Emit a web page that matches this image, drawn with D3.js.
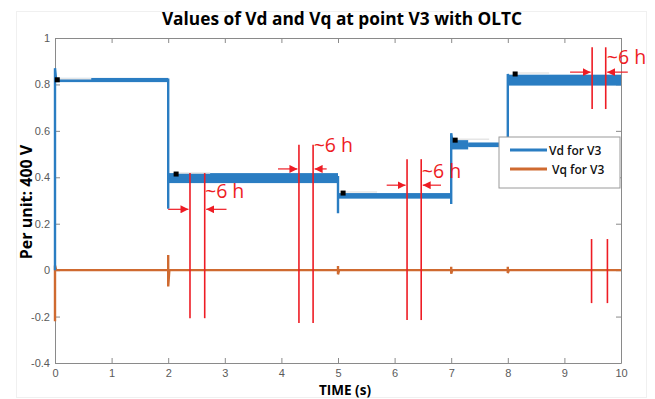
<!DOCTYPE html>
<html>
<head>
<meta charset="utf-8">
<script src="https://cdn.jsdelivr.net/npm/d3@7"></script>
<style>
  body { margin: 0; background: #fff; }
  svg { display: block; }
  .axis path, .axis line { stroke: #8a8a8a; }
  .axis text { fill: #5a5a5a; font-family: "Liberation Sans", Arial, sans-serif; font-size: 11px; }
</style>
</head>
<body>
<div id="chart"></div>
<script>
// x ticks and y ticks
var xTicks = [0, 1, 2, 3, 4, 5, 6, 7, 8, 9, 10];
var yTicks = [-0.4, -0.2, 0, 0.2, 0.4, 0.6, 0.8, 1];
var yTickLabels = ["-0.4", "-0.2", "0", "0.2", "0.4", "0.6", "0.8", "1"];

// Vd step trace (time, value)
var vdTime  = [0, 0, 0.02, 2, 2, 2, 5, 5, 5, 7, 7, 7, 7.03, 8, 8, 8.03, 10];
var vdValue = [0, 0.87, 0.82, 0.82, 0.265, 0.40, 0.40, 0.245, 0.32, 0.32, 0.285, 0.59, 0.54, 0.54, 0.845, 0.82, 0.82];
// Vd ripple band per segment: start, end, low, high
var vdBandStart = [0.02, 2, 5, 7, 7.3, 8];
var vdBandEnd   = [2, 5, 7, 7.3, 8, 10];
var vdBandLow   = [0.81, 0.375, 0.308, 0.52, 0.53, 0.795];
var vdBandHigh  = [0.828, 0.418, 0.332, 0.56, 0.55, 0.842];

// Vq trace (time, value)
var vqTime  = [0, 0, 0, 0.02, 2, 2, 2, 2.02, 5, 5, 5, 5.02, 7, 7, 7, 7.02, 8, 8, 8, 8.02, 10];
var vqValue = [0, -0.22, 0.02, 0, 0, 0.065, -0.07, 0, 0, 0.018, -0.018, 0, 0, 0.015, -0.015, 0, 0, 0.015, -0.012, 0, 0];

// data tip markers
var tipTime  = [0.04, 2.14, 5.09, 7.07, 8.13];
var tipValue = [0.82, 0.414, 0.332, 0.56, 0.845];

// "~6 h" annotation pairs
var annLeft   = [2.385, 4.31, 6.22, 9.49];
var annRight  = [2.645, 4.56, 6.47, 9.73];
var annTop    = [0.418, 0.54, 0.478, 0.96];
var annBottom = [-0.207, -0.228, -0.215, 0.694];
var annArrowY = [0.262, 0.436, 0.366, 0.853];
var annArrowFrom = [2.0, 3.94, 5.86, 9.1];
var annArrowTo   = [3.03, 4.8, 6.82, 10.12];
var annLabelX = [2.65, 4.57, 6.48, 9.75];
var annLabelY = [0.31, 0.51, 0.397, 0.89];
// lower pair without label
var lowLeft = 9.48, lowRight = 9.76, lowTop = 0.134, lowBottom = -0.142;

var width = 655, height = 399;
var margin = {top: 38, right: 34, bottom: 36, left: 55};

var xScale = d3.scaleLinear().domain([0, 10]).range([margin.left, width - margin.right]);
var yScale = d3.scaleLinear().domain([-0.4, 1]).range([height - margin.bottom, margin.top]);

var svg = d3.select("#chart").append("svg")
    .attr("width", width)
    .attr("height", height);

var blue = "#2a7dc2", orange = "#cf6a30", red = "#ee1c24";

// faint figure border
svg.append("rect")
    .attr("x", 16.5).attr("y", 11.5).attr("width", 630).attr("height", 386)
    .attr("fill", "none").attr("stroke", "#f0f0f0");

// axes (MATLAB style, ticks inside)
svg.append("g").attr("class", "axis")
    .attr("transform", "translate(0," + yScale(-0.4) + ")")
    .call(d3.axisBottom(xScale).tickValues(xTicks).tickFormat(d3.format("d"))
        .tickSizeInner(-5).tickSizeOuter(0).tickPadding(6));
svg.append("g").attr("class", "axis")
    .attr("transform", "translate(0," + yScale(1) + ")")
    .call(d3.axisTop(xScale).tickValues(xTicks).tickFormat("")
        .tickSizeInner(-5).tickSizeOuter(0));
svg.append("g").attr("class", "axis")
    .attr("transform", "translate(" + xScale(0) + ",0)")
    .call(d3.axisLeft(yScale).tickValues(yTicks)
        .tickFormat(function(d, i){ return yTickLabels[i]; })
        .tickSizeInner(-5).tickSizeOuter(0).tickPadding(5));
svg.append("g").attr("class", "axis")
    .attr("transform", "translate(" + xScale(10) + ",0)")
    .call(d3.axisRight(yScale).tickValues(yTicks).tickFormat("")
        .tickSizeInner(-5).tickSizeOuter(0));

var line = d3.line()
    .x(function(d){ return xScale(d[0]); })
    .y(function(d){ return yScale(d[1]); });

// Vq
svg.append("path")
    .datum(d3.zip(vqTime, vqValue))
    .attr("fill", "none")
    .attr("stroke", orange)
    .attr("stroke-width", 2.4)
    .attr("d", line);

// Vd band
svg.selectAll(".band")
    .data(d3.range(vdBandStart.length))
    .enter().append("rect")
    .attr("x", function(i){ return xScale(vdBandStart[i]); })
    .attr("width", function(i){ return xScale(vdBandEnd[i]) - xScale(vdBandStart[i]); })
    .attr("y", function(i){ return yScale(vdBandHigh[i]); })
    .attr("height", function(i){ return yScale(vdBandLow[i]) - yScale(vdBandHigh[i]); })
    .attr("fill", blue);

// Vd
svg.append("path")
    .datum(d3.zip(vdTime, vdValue))
    .attr("fill", "none")
    .attr("stroke", blue)
    .attr("stroke-width", 2.4)
    .attr("d", line);

// data tips
tipTime.forEach(function(t, i){
    svg.append("line")
        .attr("x1", xScale(t)).attr("x2", xScale(t) + 34)
        .attr("y1", yScale(tipValue[i]) - 1).attr("y2", yScale(tipValue[i]) - 1)
        .attr("stroke", "#e6e6e6").attr("stroke-width", 1.5);
    svg.append("rect")
        .attr("x", xScale(t) - 2.5).attr("y", yScale(tipValue[i]) - 2.5)
        .attr("width", 5).attr("height", 5)
        .attr("fill", "#000");
});

// red annotations
var defs = svg.append("defs");
defs.append("marker")
    .attr("id", "head")
    .attr("viewBox", "0 0 10 10")
    .attr("refX", 10).attr("refY", 5)
    .attr("markerWidth", 8).attr("markerHeight", 8)
    .attr("markerUnits", "userSpaceOnUse")
    .attr("orient", "auto")
    .append("path").attr("d", "M0,0 L10,5 L0,10 Z").attr("fill", red);

var ann = svg.append("g");
annLeft.forEach(function(l, i){
    [l, annRight[i]].forEach(function(t){
        ann.append("line")
            .attr("x1", xScale(t)).attr("x2", xScale(t))
            .attr("y1", yScale(annTop[i])).attr("y2", yScale(annBottom[i]))
            .attr("stroke", red).attr("stroke-width", 1.6);
    });
    ann.append("line")
        .attr("x1", xScale(annArrowFrom[i])).attr("x2", xScale(l) - 1.5)
        .attr("y1", yScale(annArrowY[i])).attr("y2", yScale(annArrowY[i]))
        .attr("stroke", red).attr("stroke-width", 1.2)
        .attr("marker-end", "url(#head)");
    ann.append("line")
        .attr("x1", xScale(annArrowTo[i])).attr("x2", xScale(annRight[i]) + 1.5)
        .attr("y1", yScale(annArrowY[i])).attr("y2", yScale(annArrowY[i]))
        .attr("stroke", red).attr("stroke-width", 1.2)
        .attr("marker-end", "url(#head)");
    ann.append("text")
        .attr("x", xScale(annLabelX[i])).attr("y", yScale(annLabelY[i]))
        .attr("fill", red)
        .style("font-family", "'Open Sans', sans-serif")
        .style("font-size", "19.5px")
        .text("~6 h");
});
[lowLeft, lowRight].forEach(function(t){
    ann.append("line")
        .attr("x1", xScale(t)).attr("x2", xScale(t))
        .attr("y1", yScale(lowTop)).attr("y2", yScale(lowBottom))
        .attr("stroke", red).attr("stroke-width", 1.6);
});

// legend
var lg = svg.append("g").attr("transform", "translate(499,137)");
lg.append("rect").attr("width", 121).attr("height", 51)
    .attr("fill", "#fff").attr("stroke", "#9a9a9a");
[["Vd for V3", blue], ["Vq for V3", orange]].forEach(function(d, i){
    lg.append("line")
        .attr("x1", 11).attr("x2", 48)
        .attr("y1", 13 + i * 19).attr("y2", 13 + i * 19)
        .attr("stroke", d[1]).attr("stroke-width", 3);
    lg.append("text")
        .attr("x", 50 + i * 3).attr("y", 17.5 + i * 19)
        .style("font-family", "'Open Sans', sans-serif")
        .style("font-size", "12px").style("font-weight", "600")
        .attr("fill", "#111")
        .text(d[0]);
});

// titles
svg.append("text")
    .attr("x", 342).attr("y", 25)
    .attr("text-anchor", "middle")
    .style("font-family", "'Open Sans', sans-serif")
    .style("font-size", "17.3px").style("font-weight", "bold")
    .text("Values of Vd and Vq at point V3 with OLTC");
svg.append("text")
    .attr("x", 345).attr("y", 394.5)
    .attr("text-anchor", "middle")
    .style("font-family", "'Open Sans', sans-serif")
    .style("font-size", "13.5px").style("font-weight", "bold")
    .text("TIME (s)");
svg.append("text")
    .attr("transform", "translate(32,202) rotate(-90)")
    .attr("text-anchor", "middle")
    .style("font-family", "'Open Sans', sans-serif")
    .style("font-size", "16px").style("font-weight", "bold")
    .text("Per unit: 400 V");
</script>
</body>
</html>
